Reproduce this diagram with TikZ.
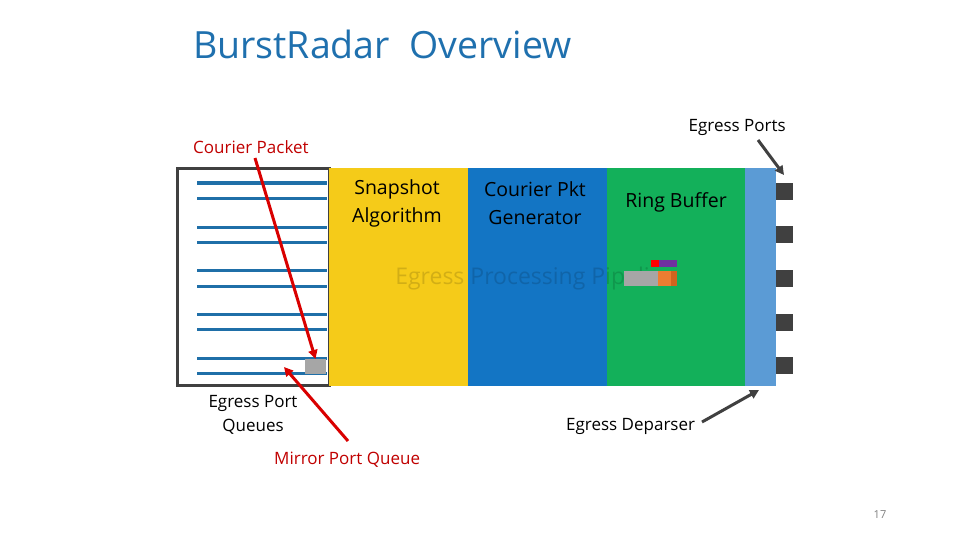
\documentclass[tikz,border=0pt]{standalone}
\usepackage{fontspec}
\setmainfont{Open Sans}
\usetikzlibrary{arrows.meta}
\definecolor{titleblue}{HTML}{1F70AE}
\definecolor{yellowc}{HTML}{F5CB19}
\definecolor{bluec}{HTML}{1375C4}
\definecolor{greenc}{HTML}{13B05A}
\definecolor{lightbluec}{HTML}{5B9BD5}
\definecolor{darkg}{HTML}{404040}
\definecolor{qline}{HTML}{1F6FA8}
\definecolor{redc}{HTML}{C00000}
\definecolor{arrred}{HTML}{D90000}
\definecolor{purplec}{HTML}{7030A0}
\definecolor{orangec}{HTML}{ED7D31}
\definecolor{darkorange}{HTML}{D0641E}
\tikzset{
  x=1pt,y=-1pt,
  block/.style={draw=none,inner sep=0pt,outer sep=0pt},
  qln/.style={draw=qline,line width=3pt},
  port/.style={fill=darkg,draw=none,minimum width=17pt,minimum height=17pt,inner sep=0pt},
  cell/.style={draw=none,inner sep=0pt,outer sep=0pt},
  lbl/.style={font=\fontsize{19.5}{28}\selectfont,align=center,inner sep=0pt},
  smalllbl/.style={font=\fontsize{17}{24}\selectfont,align=center,inner sep=0pt},
  redarrow/.style={draw=arrred,line width=3pt,-{Triangle[length=9pt,width=9pt]}},
  grayarrow/.style={draw=darkg,line width=3pt,-{Triangle[length=9pt,width=9pt]}},
}
\begin{document}
\begin{tikzpicture}
\useasboundingbox (0,0) rectangle (960,540);
% title
\node[anchor=base west,inner sep=0pt,text=titleblue,font=\fontsize{37.5}{42}\selectfont] (title) at (193,59) {BurstRadar\ \ Overview};
% queue frame
\node[draw=darkg,line width=3pt,minimum width=152pt,minimum height=216pt,inner sep=0pt] (frame) at (253,277) {};
% blocks
\node[block,fill=yellowc,minimum width=139pt,minimum height=218pt] (snap) at (398.5,277) {};
\node[block,fill=bluec,minimum width=139pt,minimum height=218pt] (gen) at (537.5,277) {};
\node[block,fill=greenc,minimum width=138pt,minimum height=218pt] (ring) at (676,277) {};
\node[block,fill=lightbluec,minimum width=31pt,minimum height=218pt] (dep) at (760.5,277) {};
% queue lines
\foreach \y/\n in {183/1,198/2,227/3,242/4,270/5,286/6,314/7,329/8,358/9,373/10}{
  \coordinate (qa\n) at (197,\y);
  \coordinate (qb\n) at (327,\y);
  \draw[qln] (qa\n) -- (qb\n);
}
\node[cell,fill=gray!70,minimum width=21pt,minimum height=15pt] (mirror) at (315.5,366.5) {};
% pipeline text
\node[inner sep=0pt,text=black,text opacity=0.14,font=\fontsize{23}{27}\selectfont] (pipe) at (536,279) {Egress Processing Pipeline};
% ring buffer cells
\node[cell,fill=red,minimum width=8pt,minimum height=7pt] (c1) at (655,263.5) {};
\node[cell,fill=purplec,minimum width=18pt,minimum height=7pt] (c2) at (668,263.5) {};
\node[cell,fill=gray!70,minimum width=34pt,minimum height=15pt] (c3) at (641,278.5) {};
\node[cell,fill=orangec,minimum width=13pt,minimum height=15pt] (c4) at (664.5,278.5) {};
\node[cell,fill=darkorange,minimum width=6pt,minimum height=15pt] (c5) at (674,278.5) {};
% ports
\node[port] (p1) at (784.5,191.5) {};
\node[port] (p2) at (784.5,234.5) {};
\node[port] (p3) at (784.5,278.5) {};
\node[port] (p4) at (784.5,322.5) {};
\node[port] (p5) at (784.5,365.5) {};
% labels
\node[lbl] (snapl) at (397,203) {Snapshot\\Algorithm};
\node[lbl] (genl) at (535,203) {Courier Pkt\\ Generator};
\node[lbl] (ringl) at (676,202) {Ring Buffer};
\node[smalllbl,anchor=base east] (portsl) at (786,132) {Egress Ports};
\node[smalllbl,anchor=base west,text=redc] (courl) at (193,154) {Courier Packet};
\node[smalllbl] (queuel) at (253,415) {Egress Port\\ Queues};
\node[smalllbl,anchor=base west] (depl) at (566,430) {Egress Deparser};
\node[smalllbl,anchor=base west,text=redc] (mirl) at (274,464) {Mirror Port Queue};
\node[inner sep=0pt,text=gray,font=\fontsize{11}{13}\selectfont] (pg) at (880,515) {17};
% arrows
\coordinate (a1s) at (255,158);
\coordinate (a2s) at (348,441);
\coordinate (a2e) at (284,367);
\coordinate (a3s) at (758,140);
\coordinate (a3e) at (784,175);
\coordinate (a4s) at (702,422);
\coordinate (a4e) at (759,390);
\draw[redarrow] (a1s) -- (mirror.north);
\draw[redarrow] (a2s) -- (a2e);
\draw[grayarrow] (a3s) -- (a3e);
\draw[grayarrow] (a4s) -- (a4e);
\end{tikzpicture}
\end{document}
